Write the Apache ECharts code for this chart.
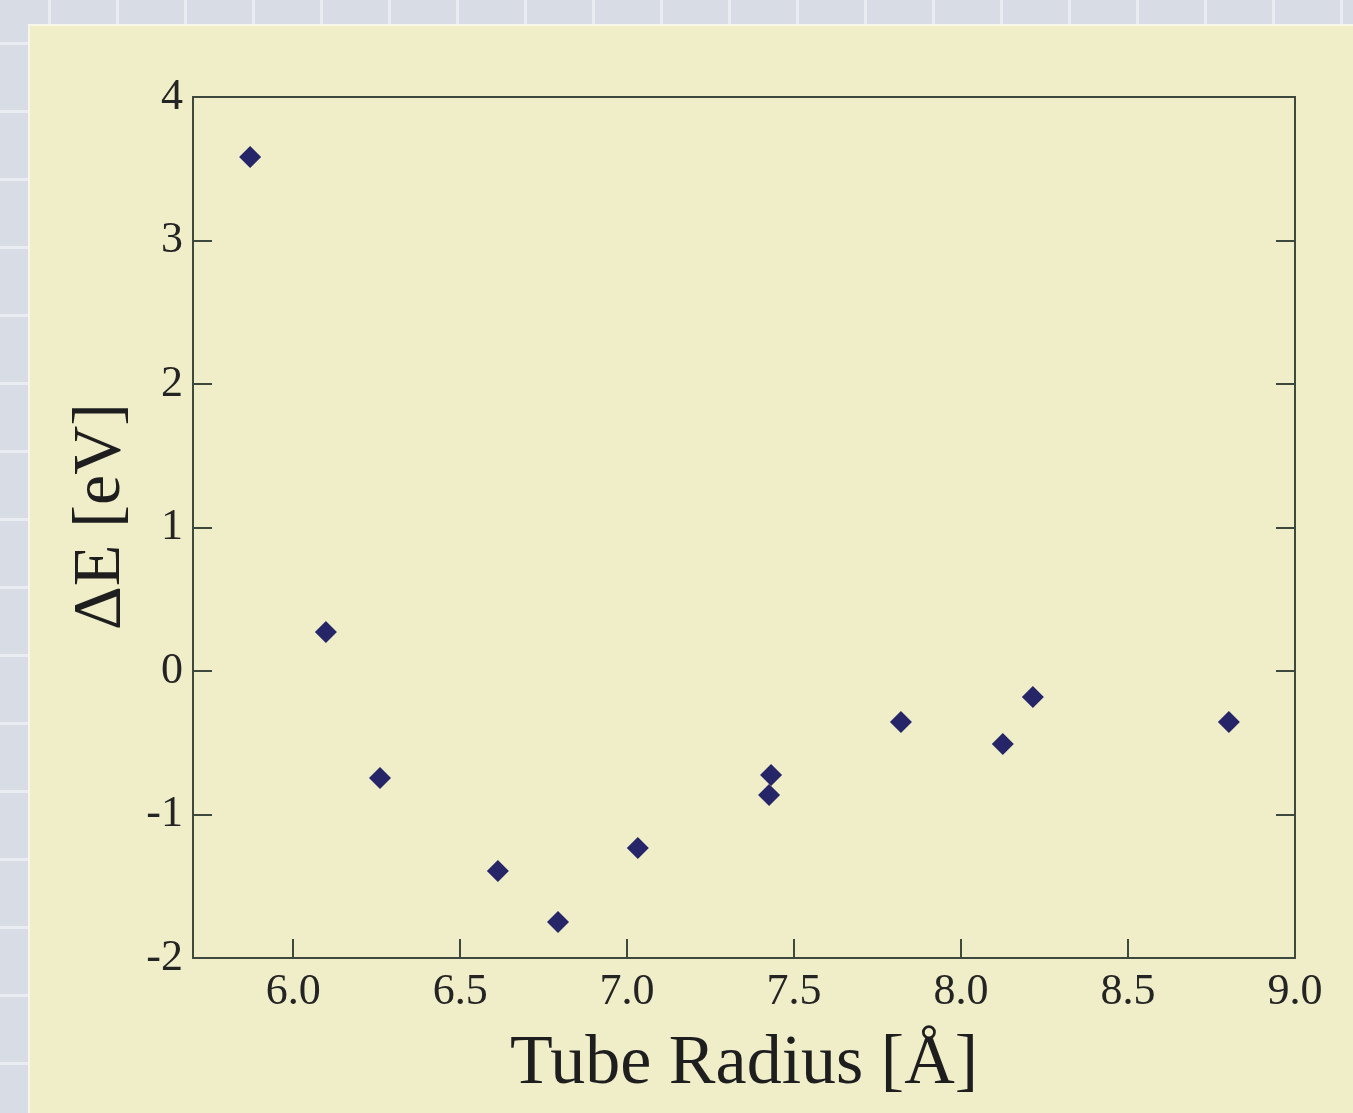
<!DOCTYPE html>
<html>
<head>
<meta charset="utf-8">
<script src="https://cdn.jsdelivr.net/npm/echarts@6/dist/echarts.min.js"></script>
<style>
  html, body { margin: 0; padding: 0; width: 1353px; height: 1113px; overflow: hidden; }
  body {
    background-color: #d8dce4;
    background-image: linear-gradient(to right, #e9ecf0 3px, transparent 3px),
                      linear-gradient(to bottom, #e9ecf0 3px, transparent 3px);
    background-size: 68px 68px;
    background-position: 48px 42px;
  }
  #panel {
    position: absolute; left: 28px; top: 24px; width: 1325px; height: 1089px;
    background: #efeec9; border-top: 2px solid #f6f6ea; border-left: 2px solid #f6f6ea;
    box-sizing: border-box;
  }
  #chart { position: absolute; left: -1px; top: -1px; width: 1324px; height: 1088px; }
</style>
</head>
<body>
<div id="panel"><div id="chart"></div></div>
<script>
// Data
const tubeRadius = [5.871, 6.098, 6.260, 6.613, 6.793, 7.032, 7.431, 7.425, 7.820, 8.125, 8.215, 8.802];
const deltaE     = [3.582, 0.272, -0.746, -1.394, -1.749, -1.233, -0.725, -0.864, -0.355, -0.509, -0.181, -0.355];
const xTickLabels = [6.0, 6.5, 7.0, 7.5, 8.0, 8.5, 9.0];
const xTickMarks  = [6.0, 6.5, 7.0, 7.5, 8.0, 8.5];
const yTickLabels = [-2, -1, 0, 1, 2, 3, 4];

const points = tubeRadius.map((x, i) => [x, deltaE[i]]);
const axisColor = '#3d493d';
const serif = '"Liberation Serif", "DejaVu Serif", serif';

const chart = echarts.init(document.getElementById('chart'));
chart.setOption({
  backgroundColor: 'transparent',
  animation: false,
  grid: { left: 164, top: 72, right: 58, bottom: 155, containLabel: false },
  xAxis: [{
    type: 'value', min: 5.7, max: 9.0, position: 'bottom',
    name: 'Tube Radius [Å]', nameLocation: 'middle', nameGap: 72,
    nameTextStyle: { fontFamily: serif, fontSize: 70, color: '#1e1e1e' },
    axisLine: { show: true, onZero: false, lineStyle: { color: axisColor, width: 2 } },
    axisTick: { show: true, inside: true, length: 19, customValues: xTickMarks, lineStyle: { color: axisColor, width: 2 } },
    axisLabel: { show: true, margin: 12, customValues: xTickLabels, fontFamily: serif, fontSize: 44, color: '#242424',
      formatter: v => Number(v).toFixed(1) },
    splitLine: { show: false }
  }, {
    type: 'value', min: 5.7, max: 9.0, position: 'top',
    axisLine: { show: true, onZero: false, lineStyle: { color: axisColor, width: 2 } },
    axisTick: { show: false }, axisLabel: { show: false }, splitLine: { show: false }
  }],
  yAxis: [{
    type: 'value', min: -2, max: 4, interval: 1, position: 'left',
    name: 'ΔE [eV]', nameLocation: 'middle', nameGap: 50,
    nameTextStyle: { fontFamily: serif, fontSize: 68, color: '#1e1e1e', padding: [0, 0, 0, 22] },
    axisLine: { show: true, onZero: false, lineStyle: { color: axisColor, width: 2 } },
    axisTick: { show: true, inside: true, length: 19, lineStyle: { color: axisColor, width: 2 } },
    axisLabel: { show: true, margin: 10, fontFamily: serif, fontSize: 44, color: '#242424',
      customValues: yTickLabels, formatter: v => String(v) },
    splitLine: { show: false }
  }, {
    type: 'value', min: -2, max: 4, interval: 1, position: 'right',
    axisLine: { show: true, onZero: false, lineStyle: { color: axisColor, width: 2 } },
    axisTick: { show: true, inside: true, length: 19, lineStyle: { color: axisColor, width: 2 } },
    axisLabel: { show: false }, splitLine: { show: false }
  }],
  series: [{
    type: 'scatter', xAxisIndex: 0, yAxisIndex: 0,
    data: points, symbol: 'diamond', symbolSize: [22, 22],
    itemStyle: { color: '#252567', opacity: 1 }
  }]
});
</script>
</body>
</html>
